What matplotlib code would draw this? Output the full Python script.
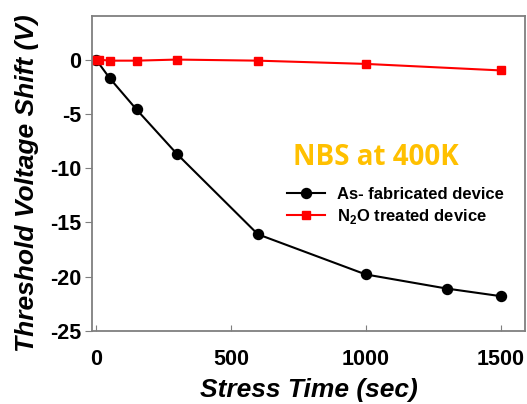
import numpy as np
import matplotlib.pyplot as plt

# stress time (sec) and threshold voltage shift (V)
t_asfab = [0, 50, 150, 300, 600, 1000, 1300, 1500]
v_asfab = [0, -1.7, -4.6, -8.7, -16.1, -19.8, -21.1, -21.8]
t_n2o = [0, 10, 50, 150, 300, 600, 1000, 1500]
v_n2o = [0, 0, -0.1, -0.1, 0, -0.1, -0.4, -1.0]

plt.rcParams['font.family'] = ['Liberation Sans', 'DejaVu Sans']
plt.rcParams['axes.unicode_minus'] = False
plt.rcParams['mathtext.fontset'] = 'custom'
plt.rcParams['mathtext.rm'] = 'Liberation Sans:bold'

fig = plt.figure(figsize=(5.27, 4.04), dpi=100)
ax = fig.add_axes([0.1746, 0.181, 0.8214, 0.779])

ax.plot(t_asfab, v_asfab, '-o', color='black', lw=1.5, ms=7.2,
        label='As- fabricated device')
ax.plot(t_n2o, v_n2o, '-s', color='red', lw=1.5, ms=6,
        label='N$_\\mathrm{2}$O treated device')

ax.set_xlim(-15, 1590)
ax.set_ylim(-25, 4)
ax.set_xticks([0, 500, 1000, 1500])
ax.set_yticks([0, -5, -10, -15, -20, -25])

for s in ax.spines.values():
    s.set_color('#7f7f7f')
    s.set_linewidth(1.3)
ax.tick_params(axis='x', direction='in', length=4, color='#7f7f7f', pad=13)
ax.tick_params(axis='y', direction='out', length=5, color='#7f7f7f', pad=3)
for lab in ax.get_xticklabels() + ax.get_yticklabels():
    lab.set_fontsize(15.5)
    lab.set_fontweight('bold')

ax.set_xlabel('Stress Time (sec)', fontsize=19, fontweight='bold',
              fontstyle='italic', labelpad=6)
ax.set_ylabel('Threshold Voltage Shift (V)', fontsize=19, fontweight='bold',
              fontstyle='italic', labelpad=5)
ax.yaxis.set_label_coords(-0.122, 0.47)

ax.text(0.464, 0.552, 'NBS at 400K', transform=ax.transAxes, color='#FFC000',
        fontsize=20, fontweight='bold', family=['Open Sans', 'DejaVu Sans'],
        va='center', ha='left')

leg = ax.legend(loc='upper left', bbox_to_anchor=(0.416, 0.505), frameon=False,
                fontsize=12, handlelength=2.3, handletextpad=0.7,
                labelspacing=0.3)
for txt in leg.get_texts():
    txt.set_fontweight('bold')

fig.savefig('out.png', dpi=100)
